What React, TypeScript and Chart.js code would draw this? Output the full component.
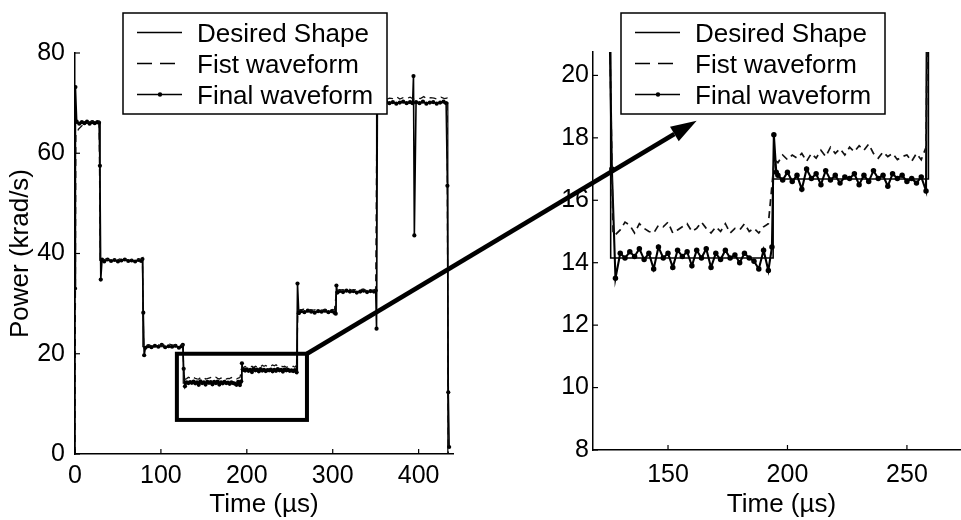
import React, { useEffect, useRef } from 'react';
import { Chart, registerables } from 'chart.js';

Chart.register(...registerables);

// ---------- data ----------
const desiredTimes = [0, 0, 29, 29, 79, 79, 126, 126, 194, 194, 259, 259, 304, 304, 351, 351, 434, 434];
const desiredPower = [0, 66, 66, 38.6, 38.6, 21.4, 21.4, 14.15, 14.15, 16.68, 16.68, 28.4, 28.4, 32.4, 32.4, 70.1, 70.1, 0];

const firstTimes = [
  0, 1, 4, 8, 12, 16, 20, 24, 28,
  29.5,
  32, 36, 40, 44, 48, 52, 56, 60, 64, 68, 72, 76, 78.5,
  80,
  82, 86, 90, 94, 98, 102, 106, 110, 114, 118, 122, 125.5,
  127,
  128, 130, 132, 134, 136, 138, 140, 142, 144, 146, 148, 150, 152, 154, 156, 158, 160,
  162, 164, 166, 168, 170, 172, 174, 176, 178, 180, 182, 184, 186, 188, 190, 192,
  194.5,
  196, 198, 200, 202, 204, 206, 208, 210, 212, 214, 216, 218, 220, 222, 224, 226,
  228, 230, 232, 234, 236, 238, 240, 242, 244, 246, 248, 250, 252, 254, 256, 258,
  259.5,
  262, 266, 270, 274, 278, 282, 286, 290, 294, 298, 302,
  304.5,
  307, 311, 315, 319, 323, 327, 331, 335, 339, 343, 347, 350,
  351.5,
  354, 358, 362, 366, 370, 374, 378, 382, 386, 390, 394, 398, 402, 406, 410, 414, 418, 422, 426, 430, 433,
  434.5,
];
const firstPower = [
  0, 63.5, 64.8, 65.5, 65.9, 66.2, 66.4, 66.5, 66.4,
  38.3,
  38.6, 38.9, 38.7, 38.8, 38.6, 38.9, 38.7, 38.8, 38.6, 38.9, 38.7, 38.8, 38.7,
  21.4,
  21.6, 21.8, 21.5, 21.9, 21.7, 21.8, 21.6, 21.9, 21.7, 21.8, 21.6, 21.8,
  14.9,
  14.9, 15.05, 15.3, 15.2, 14.95, 15.25, 15.1, 15.0, 14.95, 15.2, 15.15, 15.3, 14.95, 15.05, 15.15, 15.25, 15.0,
  15.1, 15.3, 15.1, 14.95, 15.15, 15.0, 15.25, 14.95, 15.1, 15.05, 15.25, 15.0, 15.1, 14.95, 15.15, 15.25,
  17.3,
  17.2, 17.45, 17.3, 17.45, 17.35, 17.5, 17.25, 17.5, 17.35, 17.6, 17.4, 17.7, 17.5, 17.65, 17.45, 17.7,
  17.55, 17.75, 17.6, 17.8, 17.5, 17.35, 17.55, 17.4, 17.5, 17.3, 17.4, 17.45, 17.25, 17.5, 17.3, 17.7,
  28.7,
  28.7, 28.9, 28.6, 28.8, 28.7, 28.9, 28.6, 28.8, 28.7, 28.9, 28.7,
  32.7,
  32.6, 32.8, 32.7, 32.9, 32.6, 32.8, 32.7, 32.9, 32.6, 32.8, 32.7, 32.8,
  70.6,
  70.8, 71.2, 70.7, 71.0, 70.9, 71.3, 70.8, 71.1, 70.9, 71.2, 70.8, 71.0, 70.9, 71.3, 70.8, 71.1, 71.0, 70.8, 71.2, 70.9, 71.0,
  0,
];

const finalTimes = [
  0, 0.5, 2, 5, 8, 11, 14, 17, 20, 23, 26, 28,
  29, 30, 31.5,
  34, 38, 42, 46, 50, 54, 58, 62, 66, 70, 74, 77, 78.5,
  79.5, 80.5, 82,
  85, 89, 93, 97, 101, 105, 109, 113, 117, 121, 124, 125.5,
  126.5, 128,
  130, 132, 134, 136, 138, 140, 142, 144, 146, 148, 150, 152, 154, 156, 158, 160,
  162, 164, 166, 168, 170, 172, 174, 176, 178, 180, 182, 184, 186, 188, 190, 192, 193.5,
  194.3, 195.3,
  196, 198, 200, 202, 204, 206, 208, 210, 212, 214, 216, 218, 220, 222, 224, 226,
  228, 230, 232, 234, 236, 238, 240, 242, 244, 246, 248, 250, 252, 254, 256, 258,
  259, 260.5,
  263, 267, 271, 275, 279, 283, 287, 291, 295, 299, 302, 303.5,
  304.3, 305.5,
  308, 312, 316, 320, 324, 328, 332, 336, 340, 344, 348, 350,
  351, 352,
  354, 358, 362, 366, 370, 374, 378, 382, 386, 390, 393, 394, 395, 397, 401, 405, 409, 413, 417, 421, 425, 429, 432,
  433.5, 434.5, 435.5,
];
const finalPower = [
  33, 73.2, 66.3, 65.9, 66.2, 66.0, 66.3, 65.9, 66.2, 66.0, 66.2, 66.1,
  57.5, 34.8, 38.8,
  38.4, 38.8, 38.5, 38.7, 38.4, 38.6, 38.8, 38.5, 38.6, 38.4, 38.7, 38.5, 38.9,
  28.2, 19.7, 21.2,
  21.5, 21.3, 21.6, 21.4, 21.8, 21.3, 21.5, 21.4, 21.6, 21.2, 21.5, 21.8,
  17.0, 13.5,
  14.3, 14.15, 14.35, 14.2, 14.45, 14.1, 14.3, 13.8, 14.5, 14.15, 14.3, 13.85, 14.4, 14.2, 14.35, 13.9,
  14.4, 14.15, 14.45, 13.85, 14.3, 14.1, 14.4, 14.15, 14.25, 14.0, 14.3, 14.15, 14.05, 13.8, 14.4, 13.75, 14.5,
  18.1, 16.9,
  16.8, 16.65, 16.9, 16.6, 16.8, 16.35, 17.0, 16.7, 16.85, 16.5, 16.95, 16.65, 16.8, 16.55, 16.75, 16.7,
  16.85, 16.5, 16.8, 16.6, 16.95, 16.7, 16.8, 16.45, 16.85, 16.7, 16.8, 16.6, 16.7, 16.55, 16.75, 16.3,
  34.0, 28.1,
  28.5, 28.3, 28.6, 28.4, 28.2, 28.5, 28.4, 28.6, 28.3, 28.5, 28.2, 28.0,
  33.6, 32.2,
  32.5, 32.3, 32.6, 32.4, 32.5, 32.2, 32.4, 32.6, 32.3, 32.5, 32.4, 32.6,
  25.0, 70.5,
  70.2, 69.9, 70.3, 70.0, 70.2, 69.9, 70.1, 70.3, 70.0, 70.2, 70.0, 75.4, 43.6, 70.2, 70.0, 70.3, 69.9, 70.1, 70.2, 69.9, 70.1, 70.3, 70.0,
  53.5, 12.3, 1.4,
];

const legendLabels = ['Desired Shape', 'Fist waveform', 'Final waveform'];
const xTitle = 'Time (\u00b5s)';
const yTitle = 'Power (krad/s)';

const leftXTicks = [0, 100, 200, 300, 400];
const leftYTicks = [0, 20, 40, 60, 80];
const rightXTicks = [150, 200, 250];
const rightYTicks = [8, 10, 12, 14, 16, 18, 20];

const leftXRange = [0, 440];
const leftYRange = [0, 80];
const rightXRange = [118.6, 276.4];
const rightYRange = [8, 20.75];

// zoom window drawn on the left panel, and arrow target in right-panel data units
const zoomBox = { x0: 118.6, x1: 270, y0: 6.8, y1: 20 };
const arrowTo = { x: 162, y: 18.55 };

// ---------- helpers ----------
const FONT = '"Liberation Sans", Arial, Helvetica, sans-serif';

function toPoints(xs: number[], ys: number[]) {
  return xs.map((x, i) => ({ x, y: ys[i] }));
}

function makeDatasets(k: number) {
  return [
    {
      label: legendLabels[0],
      data: toPoints(desiredTimes, desiredPower),
      borderColor: '#000',
      borderWidth: 1.2 * k,
      pointRadius: 0,
      fill: false,
      tension: 0,
    },
    {
      label: legendLabels[1],
      data: toPoints(firstTimes, firstPower),
      borderColor: '#111',
      borderWidth: 1.3 * k,
      borderDash: [7, 5],
      pointRadius: 0,
      fill: false,
      tension: 0,
    },
    {
      label: legendLabels[2],
      data: toPoints(finalTimes, finalPower),
      borderColor: '#000',
      borderWidth: 1.6 * k,
      pointRadius: 2.1 * k,
      pointBackgroundColor: '#000',
      pointBorderWidth: 0,
      fill: false,
      tension: 0,
    },
  ];
}

function setTicks(list: number[]) {
  return (scale: any) => {
    scale.ticks = list.map((v) => ({ value: v }));
  };
}

function axis(range: number[], ticks: number[], size: { w?: number; h?: number }, tickPad: number, title?: string, titlePad?: any) {
  return {
    type: 'linear' as const,
    min: range[0],
    max: range[1],
    afterBuildTicks: setTicks(ticks),
    afterFit: (s: any) => {
      if (size.w !== undefined) s.width = size.w;
      if (size.h !== undefined) s.height = size.h;
    },
    grid: { display: false, drawTicks: false },
    border: { display: true, color: '#000', width: 1.5 },
    ticks: {
      color: '#000',
      font: { family: FONT, size: 25 },
      padding: tickPad,
      maxRotation: 0,
      autoSkip: false,
    },
    title: {
      display: !!title,
      text: title || '',
      color: '#000',
      font: { family: FONT, size: 26 },
      padding: titlePad || { top: 0, bottom: 0 },
    },
  };
}

const inwardTicks = {
  id: 'inwardTicks',
  afterDraw(chart: any) {
    const { ctx, chartArea: a, scales } = chart;
    ctx.save();
    ctx.strokeStyle = '#000';
    ctx.lineWidth = 1.2;
    for (const t of scales.x.ticks) {
      const px = scales.x.getPixelForValue(t.value);
      ctx.beginPath();
      ctx.moveTo(px, a.bottom);
      ctx.lineTo(px, a.bottom - 5);
      ctx.stroke();
    }
    for (const t of scales.y.ticks) {
      const py = scales.y.getPixelForValue(t.value);
      ctx.beginPath();
      ctx.moveTo(a.left, py);
      ctx.lineTo(a.left + 5, py);
      ctx.stroke();
    }
    ctx.restore();
  },
};

function drawLegend(chart: any, dx: number, top: number) {
  const ctx = chart.ctx;
  const a = chart.chartArea;
  const bx = a.left + dx;
  const by = top;
  const w = 264;
  const h = 101;
  ctx.save();
  ctx.fillStyle = '#fff';
  ctx.fillRect(bx, by, w, h);
  ctx.strokeStyle = '#000';
  ctx.lineWidth = 1.5;
  ctx.setLineDash([]);
  ctx.strokeRect(bx, by, w, h);
  chart.data.datasets.forEach((ds: any, i: number) => {
    const ly = by + 19.5 + 31 * i;
    ctx.strokeStyle = '#000';
    ctx.lineWidth = i === 2 ? 1.6 : 1.3;
    ctx.beginPath();
    if (ds.borderDash) {
      ctx.setLineDash([15, 8]);
      ctx.moveTo(bx + 14, ly);
      ctx.lineTo(bx + 52, ly);
    } else {
      ctx.setLineDash([]);
      ctx.moveTo(bx + 14, ly);
      ctx.lineTo(bx + 59, ly);
    }
    ctx.stroke();
    ctx.setLineDash([]);
    if (ds.pointRadius > 0) {
      ctx.fillStyle = '#000';
      ctx.beginPath();
      ctx.arc(bx + 37, ly, 2.2, 0, Math.PI * 2);
      ctx.fill();
    }
    ctx.fillStyle = '#000';
    ctx.font = `26px ${FONT}`;
    ctx.textBaseline = 'alphabetic';
    ctx.textAlign = 'left';
    ctx.fillText(ds.label, bx + 74, by + 29 + 31 * i);
  });
  ctx.restore();
}

export default function App() {
  const leftRef = useRef<HTMLCanvasElement>(null);
  const rightRef = useRef<HTMLCanvasElement>(null);

  useEffect(() => {
    if (!leftRef.current || !rightRef.current) return;

    const zoomBoxPlugin = {
      id: 'zoomBox',
      afterDatasetsDraw(chart: any) {
        const { ctx, scales } = chart;
        const x0 = scales.x.getPixelForValue(zoomBox.x0);
        const x1 = scales.x.getPixelForValue(zoomBox.x1);
        const y0 = scales.y.getPixelForValue(zoomBox.y0);
        const y1 = scales.y.getPixelForValue(zoomBox.y1);
        ctx.save();
        ctx.strokeStyle = '#000';
        ctx.lineWidth = 4;
        ctx.setLineDash([]);
        ctx.strokeRect(x0, y1, x1 - x0, y0 - y1);
        ctx.restore();
      },
      afterDraw(chart: any) {
        drawLegend(chart, 48, 13);
      },
    };

    const left = new Chart(leftRef.current, {
      type: 'line',
      data: { datasets: makeDatasets(1) as any },
      options: {
        responsive: false,
        animation: false,
        devicePixelRatio: 1,
        layout: { padding: { left: 0, top: 53, right: 508, bottom: 0 } },
        plugins: { legend: { display: false }, tooltip: { enabled: false } },
        scales: {
          x: axis(leftXRange, leftXTicks, { h: 66 }, 7, xTitle, { top: 0, bottom: 0 }) as any,
          y: axis(leftYRange, leftYTicks, { w: 75 }, 10, yTitle, { top: 5, bottom: 0 }) as any,
        },
      },
      plugins: [inwardTicks, zoomBoxPlugin],
    });

    const rightPlugin = {
      id: 'rightExtras',
      afterDraw(chart: any) {
        drawLegend(chart, 28, 13);
        const ctx = chart.ctx;
        const sx = left.scales.x.getPixelForValue(zoomBox.x1);
        const sy = left.scales.y.getPixelForValue(zoomBox.y1);
        const ex = chart.scales.x.getPixelForValue(arrowTo.x);
        const ey = chart.scales.y.getPixelForValue(arrowTo.y);
        const ang = Math.atan2(ey - sy, ex - sx);
        const headLen = 26;
        const headHalf = 8.5;
        const bxp = ex - headLen * Math.cos(ang);
        const byp = ey - headLen * Math.sin(ang);
        ctx.save();
        ctx.strokeStyle = '#000';
        ctx.fillStyle = '#000';
        ctx.lineWidth = 4.5;
        ctx.setLineDash([]);
        ctx.beginPath();
        ctx.moveTo(sx, sy);
        ctx.lineTo(bxp, byp);
        ctx.stroke();
        ctx.beginPath();
        ctx.moveTo(ex, ey);
        ctx.lineTo(bxp + headHalf * Math.sin(ang), byp - headHalf * Math.cos(ang));
        ctx.lineTo(bxp - headHalf * Math.sin(ang), byp + headHalf * Math.cos(ang));
        ctx.closePath();
        ctx.fill();
        ctx.restore();
      },
    };

    const right = new Chart(rightRef.current, {
      type: 'line',
      data: { datasets: makeDatasets(1.3) as any },
      options: {
        responsive: false,
        animation: false,
        devicePixelRatio: 1,
        layout: { padding: { left: 533, top: 52, right: 10, bottom: 0 } },
        plugins: { legend: { display: false }, tooltip: { enabled: false } },
        scales: {
          x: axis(rightXRange, rightXTicks, { h: 70 }, 10, xTitle, { top: 0, bottom: 0 }) as any,
          y: axis(rightYRange, rightYTicks, { w: 60 }, 4) as any,
        },
      },
      plugins: [inwardTicks, rightPlugin],
    });

    return () => {
      right.destroy();
      left.destroy();
    };
  }, []);

  return (
    <div
      style={{
        position: 'fixed',
        left: 0,
        top: 0,
        width: 961,
        height: 520,
        overflow: 'hidden',
        background: '#fff',
      }}
    >
      <canvas
        ref={leftRef}
        width={961}
        height={520}
        style={{ position: 'absolute', left: 0, top: 0, width: 961, height: 520 }}
      />
      <canvas
        ref={rightRef}
        width={980}
        height={520}
        style={{ position: 'absolute', left: 0, top: 0, width: 980, height: 520 }}
      />
    </div>
  );
}
